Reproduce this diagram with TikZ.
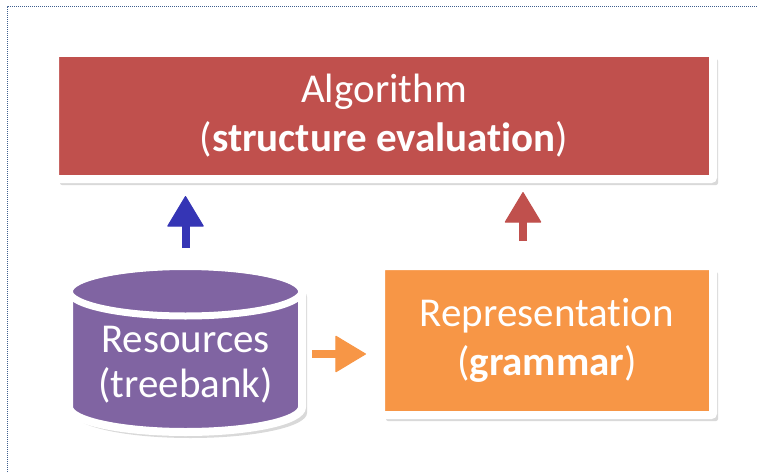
\documentclass[tikz,border=0pt]{standalone}
\usepackage{fontspec}
\setmainfont{Carlito}[Ligatures=NoCommon]
\usepackage{tikz}
\usetikzlibrary{arrows.meta}
\usetikzlibrary{shadows}

\definecolor{algred}{HTML}{C0504D}
\definecolor{respurple}{HTML}{8064A2}
\definecolor{reporange}{HTML}{F79646}
\definecolor{arrowblue}{HTML}{3535B5}
\definecolor{frameblue}{HTML}{3F5F8F}

\tikzset{
  box/.style={draw=white, line width=8pt, rounded corners=2pt, text=white, align=center, inner sep=0pt,
    font=\fontsize{41}{49}\selectfont,
    drop shadow={shadow xshift=5pt, shadow yshift=-6pt, opacity=0.3}},
  bigarrow/.style={line width=8pt, -{Triangle[width=37pt,length=31pt,line width=1pt,round]}},
}

\begin{document}
\begin{tikzpicture}[x=1pt,y=1pt]
    \useasboundingbox (0,0) rectangle (757,472);
    \draw[frameblue, densely dotted, line width=1pt] (7,0) -- (7,465) -- (757,465);
    \node[box, fill=algred, minimum width=658pt, minimum height=126pt] (alg) at (384,356) {Algorithm\\(\textbf{structure evaluation})};
    \node[box, fill=reporange, minimum width=332pt, minimum height=149pt] (rep) at (547,131.5) {Representation\\(\textbf{grammar})};
    % the cylinder
    \filldraw[fill=respurple, draw=white, line width=8pt, drop shadow={shadow xshift=5pt, shadow yshift=-6pt, opacity=0.3}]
      (69,181) -- (69,65) arc[start angle=180, end angle=360, x radius=116.5, y radius=25]
      -- (302,181) arc[start angle=0, end angle=180, x radius=116.5, y radius=25] -- cycle;
    \draw[white, line width=7pt] (185.5,181) ellipse[x radius=116.5, y radius=25];
    \node[text=white, align=center, font=\fontsize{41}{45}\selectfont] (res) at (185.5,107) {Resources\\(treebank)};
    \coordinate (restop) at (185.5,206);
    \coordinate (resright) at (302,118);
    \coordinate (repup) at ([xshift=-24pt]rep.north);
    \draw[bigarrow, arrowblue, shorten <=18pt, shorten >=13pt] (restop) -- (restop |- alg.south);
    \draw[bigarrow, algred, shorten <=21pt, shorten >=9pt] (repup) -- (repup |- alg.south);
    \draw[bigarrow, reporange, shorten <=10pt, shorten >=11pt] (resright) -- (resright -| rep.west);
\end{tikzpicture}
\end{document}
